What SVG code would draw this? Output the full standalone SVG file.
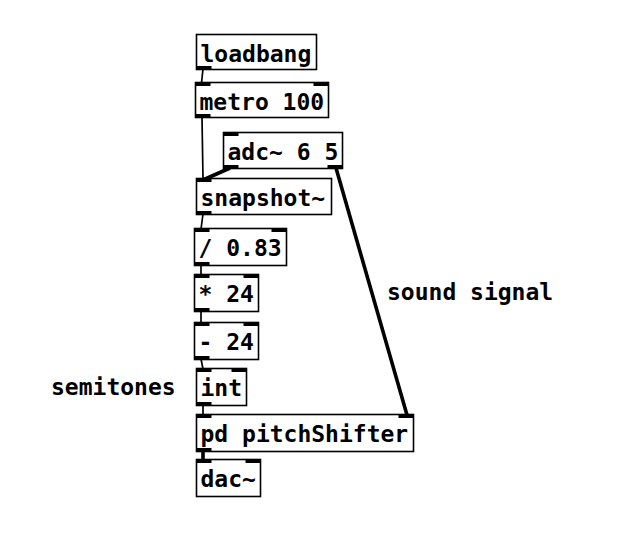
<svg xmlns="http://www.w3.org/2000/svg" width="637" height="537" viewBox="0 0 637 537">
<style>
.box{fill:#fff;stroke:#000;stroke-width:1.6}
.io{fill:#000}
.t{font-family:"DejaVu Sans Mono",monospace;font-weight:bold;font-size:23px;fill:#000}
.c{stroke:#000;stroke-width:1.7;fill:none}
.s{stroke:#000;stroke-width:3.6;fill:none}
</style>
<rect width="637" height="537" fill="#fff"/>
<g id="connectors">
<line class="c" x1="203" y1="69" x2="201.5" y2="83"/>
<line class="c" x1="202" y1="117" x2="203" y2="179"/>
<line class="s" x1="230" y1="168" x2="203" y2="180"/>
<line class="s" x1="336" y1="168" x2="407" y2="415"/>
<line class="c" x1="203" y1="214" x2="201" y2="229"/>
<line class="c" x1="201" y1="265" x2="201" y2="275"/>
<line class="c" x1="201" y1="311" x2="201" y2="323"/>
<line class="c" x1="201" y1="359" x2="203" y2="369"/>
<line class="c" x1="203" y1="405" x2="203" y2="415"/>
<line class="s" x1="203" y1="451" x2="203" y2="460"/>
</g>
<g id="loadbang">
<rect class="box" x="196.5" y="34.5" width="120" height="35"/>
<rect class="io" x="196.5" y="66" width="15" height="4"/>
<text class="t" x="200.5" y="61.5">loadbang</text>
</g>
<g id="metro">
<rect class="box" x="195.5" y="82.5" width="133" height="35"/>
<rect class="io" x="195.5" y="82" width="15" height="4"/>
<rect class="io" x="313.5" y="82" width="15" height="4"/>
<rect class="io" x="195.5" y="114" width="15" height="4"/>
<text class="t" x="199.5" y="109.5">metro 100</text>
</g>
<g id="adc">
<rect class="box" x="223.5" y="132.5" width="119" height="36"/>
<rect class="io" x="223.5" y="132" width="15" height="4"/>
<rect class="io" x="223.5" y="165" width="15" height="4"/>
<rect class="io" x="327.5" y="165" width="15" height="4"/>
<text class="t" x="227.5" y="160">adc~ 6 5</text>
</g>
<g id="snapshot">
<rect class="box" x="196.5" y="178.5" width="135" height="36"/>
<rect class="io" x="196.5" y="178" width="15" height="4"/>
<rect class="io" x="196.5" y="211" width="15" height="4"/>
<text class="t" x="200.5" y="206">snapshot~</text>
</g>
<g id="div">
<rect class="box" x="194.5" y="228.5" width="92" height="37"/>
<rect class="io" x="194.5" y="228" width="15" height="4"/>
<rect class="io" x="271.5" y="228" width="15" height="4"/>
<rect class="io" x="194.5" y="262" width="15" height="4"/>
<text class="t" x="198.5" y="256">/ 0.83</text>
</g>
<g id="mul">
<rect class="box" x="194.5" y="274.5" width="64" height="37"/>
<rect class="io" x="194.5" y="274" width="15" height="4"/>
<rect class="io" x="243.5" y="274" width="15" height="4"/>
<rect class="io" x="194.5" y="308" width="15" height="4"/>
<text class="t" x="198.5" y="302">* 24</text>
</g>
<g id="sub">
<rect class="box" x="194.5" y="322.5" width="64" height="37"/>
<rect class="io" x="194.5" y="322" width="15" height="4"/>
<rect class="io" x="243.5" y="322" width="15" height="4"/>
<rect class="io" x="194.5" y="356" width="15" height="4"/>
<text class="t" x="198.5" y="350">- 24</text>
</g>
<g id="int">
<rect class="box" x="196.5" y="368.5" width="50" height="37"/>
<rect class="io" x="196.5" y="368" width="15" height="4"/>
<rect class="io" x="231.5" y="368" width="15" height="4"/>
<rect class="io" x="196.5" y="402" width="15" height="4"/>
<text class="t" x="200.5" y="396">int</text>
</g>
<g id="pitchShifter">
<rect class="box" x="196.5" y="414.5" width="217" height="37"/>
<rect class="io" x="196.5" y="414" width="15" height="4"/>
<rect class="io" x="398.5" y="414" width="15" height="4"/>
<rect class="io" x="196.5" y="448" width="15" height="4"/>
<text class="t" x="200.5" y="442">pd pitchShifter</text>
</g>
<g id="dac">
<rect class="box" x="196.5" y="459.5" width="64" height="37"/>
<rect class="io" x="196.5" y="459" width="15" height="4"/>
<rect class="io" x="245.5" y="459" width="15" height="4"/>
<text class="t" x="200.5" y="487">dac~</text>
</g>
<g id="comments">
<text class="t" x="387" y="300">sound signal</text>
<text class="t" x="51" y="395">semitones</text>
</g>
</svg>
